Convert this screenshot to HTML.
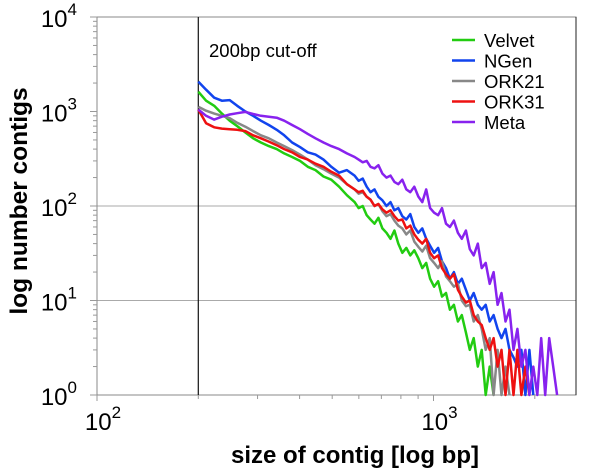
<!DOCTYPE html>
<html><head><meta charset="utf-8"><style>
html,body{margin:0;padding:0;background:#fff;}
svg{display:block;font-family:"Liberation Sans",Arial,sans-serif;}
</style></head><body>
<svg id="chart" width="600" height="469" viewBox="0 0 600 469" xmlns="http://www.w3.org/2000/svg">
<g id="grid"></g>
<g id="axes"></g>
<g id="series"></g>
<text x="209" y="57" font-size="18.5">200bp cut-off</text>
<g id="legend"></g>
<text transform="translate(27,201) rotate(-90)" text-anchor="middle" font-size="24.5" font-weight="bold">log number contigs</text>
<text x="355" y="463" text-anchor="middle" font-size="24" font-weight="bold">size of contig [log bp]</text>
</svg>
<script>
const sizes=[200,211,223,235,248,261,276,291,307,324,342,360,380,401,423,446,471,497,524,553,
583,599,616,633,650,668,686,705,725,745,765,786,808,830,853,877,901,926,951,977,1004,1032,1060,1089,1119,1150,1182,1214,1248,1282,1317,1354,1391,1429,1469,1509,1551,1593,1637,1682,1729,1776,1825,1875,1927,1980,2034,2090,2148,2207,2268,2330,2394];
const velvet=[1620,1300,1150,950,800,700,600,520,470,430,400,360,330,300,260,240,205,190,160,130,
110,95,100,80,72,65,75,58,52,45,55,40,32,36,30,34,28,22,25,17,14,16,11,12,8,9,6,7,4.6,3,4,2,3,1,2,1];
const ngen=[2070,1700,1400,1300,1320,1150,1000,900,800,720,640,560,470,420,370,350,310,260,225,240,
210,185,195,160,140,150,125,115,100,110,90,95,78,72,82,60,52,58,45,38,32,36,26,22,17,20,15,17,13,10,12,9,8,9,6,7,5,4,5,3,2.5,2,3,1,3,1];
const ork21=[1120,1020,950,900,850,760,690,620,560,520,470,430,390,350,310,270,245,220,200,170,
150,135,140,125,117,100,105,88,78,82,70,62,58,50,55,42,37,33,38,28,25,22,26,18,16,14,15,10,8.7,9,6,7,5,3,4,1,3,1,2,1];
const ork31=[1050,750,680,660,650,640,620,560,520,480,440,400,370,330,310,280,260,230,210,170,
150,140,145,125,117,100,105,92,85,90,78,70,72,58,62,50,44,40,45,32,28,30,22,19,17,19,13,11,9.5,10,7,6,5.5,4,3,4,2,3,1,3,1,3,1,2,1];
const meta=[1050,900,820,880,930,960,990,940,900,880,860,800,720,650,580,520,470,430,400,360,
330,310,290,300,260,250,270,220,200,210,180,170,190,150,140,160,126,110,150,95,85,80,95,65,60,70,52,45,55,35,30,40,22,25,15,20,9,12,6,8,3,5,2,3,1,2,1,4,1,4,2,1];
const seriesNames=["Velvet","NGen","ORK21","ORK31","Meta"];
const seriesColors=["#22cc11","#1144ee","#888888","#ee1111","#8822ee"];
const seriesData=[velvet,ngen,ork21,ork31,meta];
const yTicks=[0,1,2,3,4];
const xTicks=[2,3];

const L=97,R=576,T=17,B=395,XD=336.5,YD=94.5;
const NS="http://www.w3.org/2000/svg";
function X(v){return L+XD*(Math.log10(v)-2);}
function Y(v){return B-YD*Math.log10(Math.max(v,1));}
function mk(tag,attrs,parent){const e=document.createElementNS(NS,tag);for(const k in attrs)e.setAttribute(k,attrs[k]);parent.appendChild(e);return e;}
const grid=document.getElementById('grid'),axes=document.getElementById('axes'),ser=document.getElementById('series'),leg=document.getElementById('legend');

[1,2].forEach(p=>{const l=mk('line',{x1:L,x2:R,y1:Y(Math.pow(10,p)),y2:Y(Math.pow(10,p)),stroke:'#aaa','stroke-width':1},grid);

});
const fr=mk('rect',{x:L,y:T,width:R-L,height:B-T,fill:'none',stroke:'#888','stroke-width':1},axes);


mk('line',{x1:L,x2:L,y1:T,y2:B,stroke:'#888','stroke-width':1},axes);
mk('line',{x1:R,x2:R,y1:T,y2:B,stroke:'#222','stroke-width':1},axes);
const co=mk('line',{x1:X(200),x2:X(200),y1:T,y2:B,stroke:'#111','stroke-width':1.2},axes);


for(let p=0;p<4;p++){for(let m=1;m<10;m++){const y=B-YD*(p+Math.log10(m));mk('line',{x1:L-(m==1?7:4),x2:L,y1:y,y2:y,stroke:'#999','stroke-width':1},axes);}}
mk('line',{x1:L-7,x2:L,y1:T,y2:T,stroke:'#999'},axes);
yTicks.forEach(p=>{const t=mk('text',{x:L-20,y:Y(Math.pow(10,p))+10,'font-size':24,'text-anchor':'end'},axes);


t.textContent='10';const s=mk('tspan',{dy:-12,'font-size':17},t);s.textContent=p;});
for(let p=2;p<4;p++){for(let m=1;m<10;m++){const v=Math.pow(10,p)*m;const x=X(v);if(x>R)break;mk('line',{x1:x,x2:x,y1:B,y2:B+(m==1?6:4),stroke:'#999'},axes);}}
xTicks.forEach(p=>{const t=mk('text',{x:X(Math.pow(10,p))+6,y:B+35,'font-size':24,'text-anchor':'middle'},axes);


t.textContent='10';const s=mk('tspan',{dy:-12,'font-size':17},t);s.textContent=p;});
seriesData.forEach((d,si)=>{const pts=d.map((v,i)=>X(sizes[i]).toFixed(1)+','+Y(v).toFixed(1)).join(' ');
const pl=mk('polyline',{points:pts,fill:'none',stroke:seriesColors[si],'stroke-width':2.5,'stroke-linejoin':'round'},ser);

});
seriesNames.forEach((n,i)=>{const y=40+20.5*i;
const g=mk('g',{},leg);


mk('line',{x1:452,x2:475,y1:y,y2:y,stroke:seriesColors[i],'stroke-width':2.5},g);
const t=mk('text',{x:484,y:y+7,'font-size':18.5},g);t.textContent=n;});
</script>
</body></html>
